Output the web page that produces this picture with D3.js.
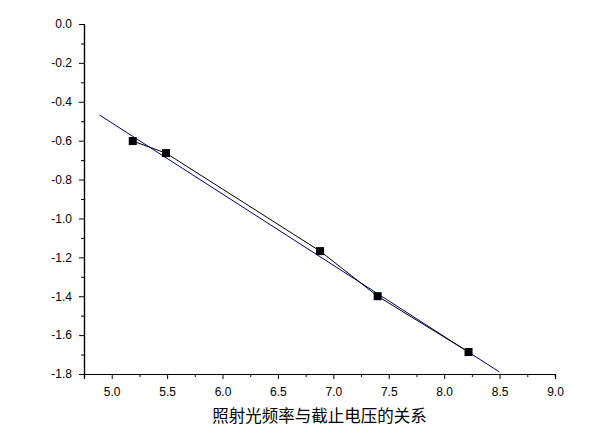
<!DOCTYPE html>
<html>
<head>
<meta charset="utf-8">
<script src="https://cdn.jsdelivr.net/npm/d3@7"></script>
<style>
  html, body { margin: 0; padding: 0; background: #fff; }
</style>
</head>
<body>
<div id="chart"></div>
<script>
// measured points: frequency (x10^14 Hz) vs stopping voltage (V)
const freq = [5.19, 5.49, 6.88, 7.40, 8.22];
const voltage = [-0.602, -0.664, -1.168, -1.40, -1.687];
// linear fit line, end points
const fitX = [4.89, 8.50];
const fitY = [-0.468, -1.79];
const xTicks = [5.0, 5.5, 6.0, 6.5, 7.0, 7.5, 8.0, 8.5, 9.0];
const xMinor = [4.75, 5.25, 5.75, 6.25, 6.75, 7.25, 7.75, 8.25, 8.75];
const yTicks = [0.0, -0.2, -0.4, -0.6, -0.8, -1.0, -1.2, -1.4, -1.6, -1.8];
const yMinor = [-0.1, -0.3, -0.5, -0.7, -0.9, -1.1, -1.3, -1.5, -1.7];
const xTitle = "照射光频率与截止电压的关系";

const width = 602, height = 441;
const margin = {top: 24, bottom: 67, right: 47, left: 84};

const svg = d3.select("#chart").append("svg")
    .attr("width", width)
    .attr("height", height)
    .style("display", "block");

const x = d3.scaleLinear().domain([4.75, 9.0]).range([margin.left, width - margin.right]);
const y = d3.scaleLinear().domain([-1.8, 0]).range([height - margin.bottom, margin.top]);

const fmt = d3.format(".1f");
const label = d => fmt(d).replace("\u2212", "-");

// x axis
const gx = svg.append("g").attr("transform", `translate(0,${height - margin.bottom})`);
gx.call(d3.axisBottom(x).tickValues(xMinor).tickSize(3).tickFormat(""));
gx.append("g").call(d3.axisBottom(x).tickValues(xTicks).tickSize(5).tickPadding(8).tickFormat(label));
gx.selectAll(".domain").attr("stroke", "#000").attr("stroke-width", 1.2);
gx.selectAll("line").attr("stroke", "#000");
gx.selectAll("text").attr("font-family", "Liberation Sans, Arial, sans-serif").attr("font-size", 12).attr("fill", "#000");

// y axis
const gy = svg.append("g").attr("transform", `translate(${margin.left},0)`);
gy.call(d3.axisLeft(y).tickValues(yMinor).tickSize(3).tickFormat(""));
gy.append("g").call(d3.axisLeft(y).tickValues(yTicks).tickSize(5).tickPadding(7).tickFormat(label));
gy.selectAll(".domain").attr("stroke", "#000").attr("stroke-width", 1.2);
gy.selectAll("line").attr("stroke", "#000");
gy.selectAll("text").attr("font-family", "Liberation Sans, Arial, sans-serif").attr("font-size", 12).attr("fill", "#000");

// fit line
svg.append("path")
    .datum(fitX.map((d, i) => [d, fitY[i]]))
    .attr("fill", "none")
    .attr("stroke", "#000080")
    .attr("stroke-width", 1)
    .attr("d", d3.line().x(d => x(d[0])).y(d => y(d[1])));

// data line
const pts = freq.map((d, i) => [d, voltage[i]]);
svg.append("path")
    .datum(pts)
    .attr("fill", "none")
    .attr("stroke", "#000")
    .attr("stroke-width", 1)
    .attr("d", d3.line().x(d => x(d[0])).y(d => y(d[1])));

const s = 8;
svg.selectAll("rect.pt")
    .data(pts)
    .enter()
    .append("rect")
    .attr("class", "pt")
    .attr("x", d => x(d[0]) - s / 2)
    .attr("y", d => y(d[1]) - s / 2)
    .attr("width", s)
    .attr("height", s)
    .attr("fill", "#000");

// title under the x axis
svg.append("text")
    .attr("x", (margin.left + width - margin.right) / 2)
    .attr("y", 422)
    .attr("text-anchor", "middle")
    .attr("font-family", "Noto Sans CJK SC, sans-serif")
    .attr("font-size", 16.5)
    .attr("fill", "#000")
    .text(xTitle);
</script>
</body>
</html>
